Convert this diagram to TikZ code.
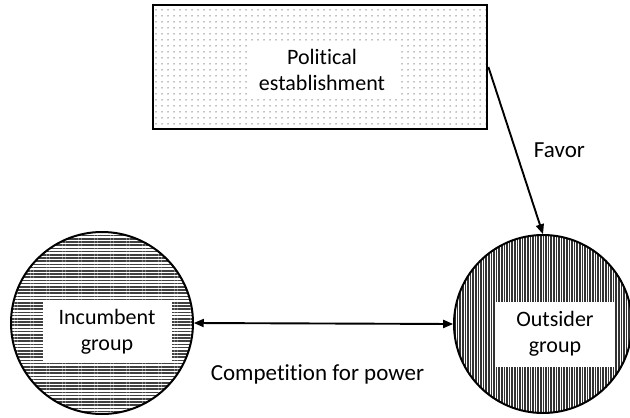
\documentclass[tikz,border=0pt]{standalone}
\usepackage{fontspec}
\setmainfont{Carlito}[Ligatures=NoCommon]
\usetikzlibrary{arrows.meta, positioning, patterns.meta, shapes.geometric}
\tikzset{
	actor/.style    ={circle, draw=black, line width=2pt, minimum size=182pt, inner sep=0pt},
	estbox/.style   ={rectangle, draw=black, line width=2.8pt, minimum width=334pt, minimum height=124pt, pattern={Dots[distance=6pt, radius=0.75pt]}, pattern color=black!50},
	tag/.style      ={rectangle, fill=white, align=center, inner sep=0pt, font=\fontsize{22}{26}\selectfont},
	rel/.style      ={-{Triangle[length=10pt, width=8pt]}, line width=1.9pt},
	edgelbl/.style  ={font=\fontsize{23}{27}\selectfont},
}
\begin{document}
\begin{tikzpicture}[x=1pt, y=-1pt]
			\useasboundingbox (0,0) rectangle (630,418);
			\node[estbox] (est) at (320,67) {};
			\node[tag, minimum width=151pt, minimum height=54pt] (estl) at (322,70) {Political\\ establishment};
			\node[actor, pattern={Lines[angle=0, distance=3.2pt, line width=1.5pt]}, pattern color=black!75] (inc) at (102,323) {};
			\node[tag, minimum width=129pt, minimum height=61pt] (incl) at (107,332) {Incumbent\\ group};
			\node[actor, minimum size=178pt, pattern={Lines[angle=90, distance=2.6pt, line width=1.6pt]}, pattern color=black!80] (out) at (543,324) {};
			\node[tag, minimum width=120pt, minimum height=65pt] (outl) at (555,334) {Outsider\\ group};
			\draw[rel, {Triangle[length=10pt, width=8pt]}-{Triangle[length=10pt, width=8pt]}] (inc.east) -- node[edgelbl, below=37pt, xshift=-6pt] {Competition for power} (out.west);
			\draw[rel] (est.east) -- node[edgelbl, right=14pt] {Favor} (out.north);
		\end{tikzpicture}
\end{document}
